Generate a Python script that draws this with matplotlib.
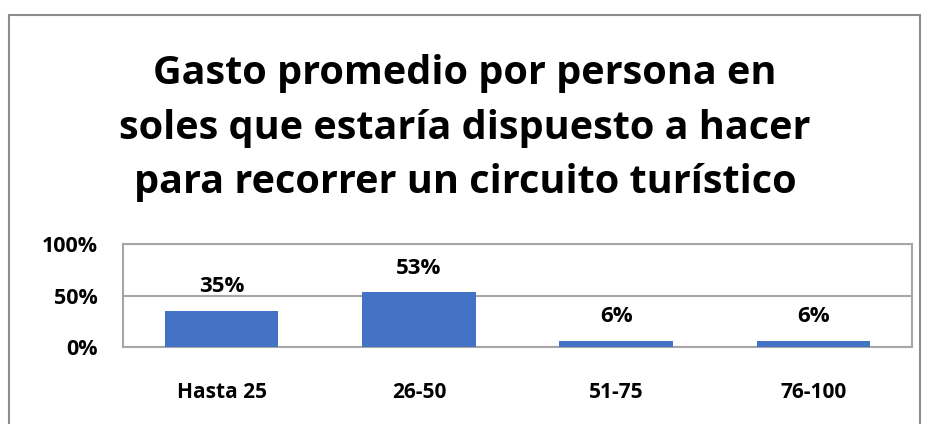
import matplotlib.pyplot as plt
from matplotlib.patches import Rectangle

categories = ["Hasta 25", "26-50", "51-75", "76-100"]
values = [35, 53, 6, 6]
y_ticks = [0, 50, 100]
y_tick_labels = ["0%", "50%", "100%"]
title = ("Gasto promedio por persona en\n"
         "soles que estaría dispuesto a hacer\n"
         "para recorrer un circuito turístico")

plt.rcParams['font.family'] = ['Open Sans', 'DejaVu Sans']

fig = plt.figure(figsize=(9.26, 4.24), dpi=100)
W, H = 926, 424

# outer chart frame (cut off at right and bottom like the screenshot)
fig.patches.append(Rectangle((9 / W, -0.1), (920 - 9) / W, 1.1 - 15 / H,
                             transform=fig.transFigure, fill=False,
                             edgecolor='#8C8C8C', linewidth=1.5))

ax = fig.add_axes([123 / W, 1 - 347 / H, (912 - 123) / W, (347 - 244) / H])
x = range(len(categories))
bars = ax.bar(x, values, width=0.575, color='#4472C4', zorder=3)
for bar, v in zip(bars, values):
    ax.annotate(f"{v}%", xy=(bar.get_x() + bar.get_width() / 2, v),
                xytext=(0, 10), textcoords="offset points",
                ha='center', va='bottom', fontsize=16, fontweight='bold')

ax.set_xlim(-0.5, len(categories) - 0.5)
ax.set_ylim(0, 100)
ax.set_yticks(y_ticks)
ax.set_yticklabels(y_tick_labels, fontsize=15.5, fontweight='bold')
ax.set_xticks(list(x))
ax.set_xticklabels(categories, fontsize=15, fontweight='bold')
ax.tick_params(length=0)
ax.tick_params(axis='y', pad=18)
ax.tick_params(axis='x', pad=25)
ax.yaxis.grid(True, color='#A6A6A6', linewidth=1.5, zorder=0)
for s in ax.spines.values():
    s.set_color('#A6A6A6')
    s.set_linewidth(1.5)

fig.text(465 / W, 1 - 128 / H, title, ha='center', va='center',
         fontsize=28.5, fontweight='bold', linespacing=1.52)

fig.savefig("out.png", dpi=100)
